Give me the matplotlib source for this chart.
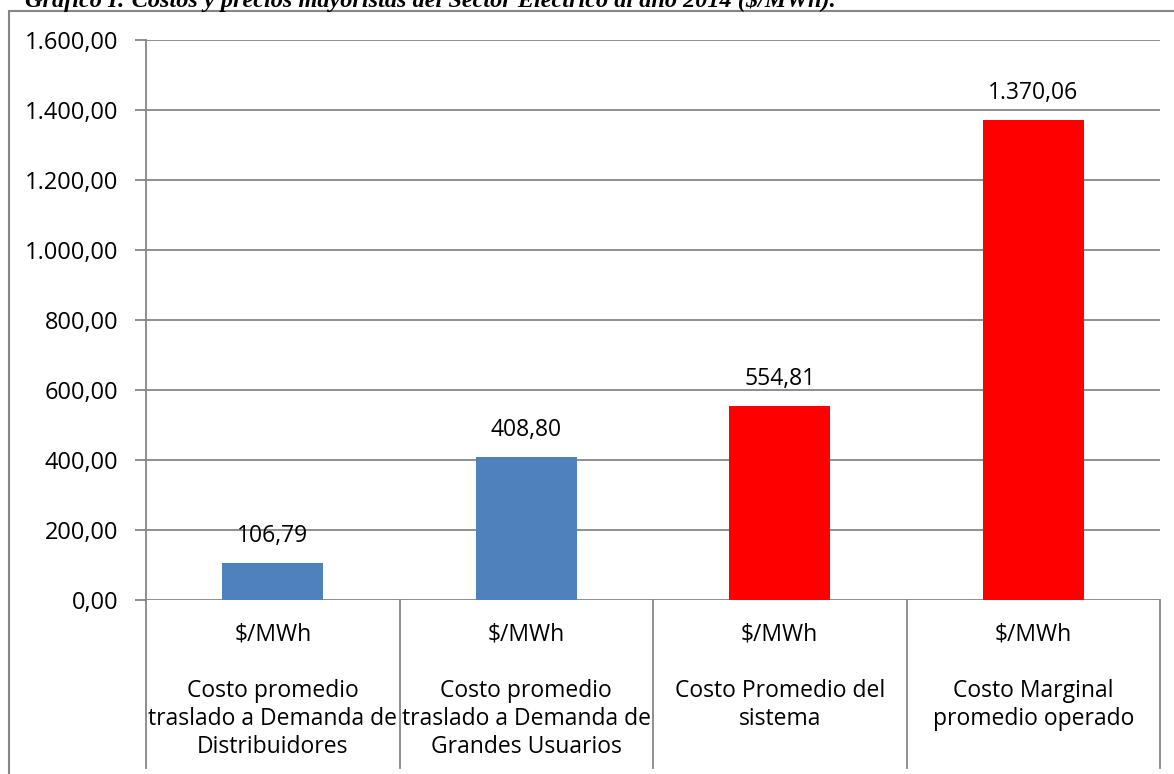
import numpy as np
import matplotlib
matplotlib.use('Agg')
import matplotlib.pyplot as plt
from matplotlib.patches import Rectangle

# datos del grafico
categorias = ['Costo promedio\ntraslado a Demanda de\nDistribuidores',
              'Costo promedio\ntraslado a Demanda de\nGrandes Usuarios',
              'Costo Promedio del\nsistema',
              'Costo Marginal\npromedio operado']
unidad = '$/MWh'
valores = [106.79, 408.80, 554.81, 1370.06]
colores = ['#4F81BD', '#4F81BD', '#FF0000', '#FF0000']
yticks = [0, 200, 400, 600, 800, 1000, 1200, 1400, 1600]

def fmt(v):
    # formato con punto de miles y coma decimal
    s = '{:,.2f}'.format(v)
    return s.replace(',', 'X').replace('.', ',').replace('X', '.')

plt.rcParams['font.family'] = ['Open Sans', 'DejaVu Sans']
W, H = 1174, 774
fs = 16.5
fig = plt.figure(figsize=(W / 100, H / 100), dpi=100)

# titulo recortado arriba
fig.text(25 / W, 1 - 7 / H, 'Gráfico I: Costos y precios mayoristas del Sector Eléctrico al año 2014 ($/MWh).',
         family='Liberation Serif', style='italic', fontweight='bold', fontsize=17.5,
         ha='left', va='baseline')

# marco exterior
fig.patches.append(Rectangle((9 / W, -0.05), 1.1, 1 - 11 / H + 0.05, transform=fig.transFigure,
                             fill=False, edgecolor='#868686', lw=1.5, zorder=0))

ax = fig.add_axes([146 / W, 1 - 600 / H, (1160 - 146) / W, 560 / H])
x = np.arange(len(valores))
ax.bar(x, valores, width=0.4, color=colores, zorder=3)
ax.set_xlim(-0.5, 3.5)
ax.set_ylim(0, 1600)
ax.set_yticks(yticks)
ax.set_yticklabels([fmt(v) for v in yticks], fontsize=17)
ax.tick_params(axis='y', length=8, color='#868686', width=1.3, pad=12)
ax.set_xticks([])
for s in ['top', 'right', 'bottom']:
    ax.spines[s].set_visible(False)
ax.spines['left'].set_color('#868686')
ax.spines['left'].set_linewidth(1.3)
ax.grid(axis='y', color='#868686', lw=1.3, zorder=0)

for xi, v in zip(x, valores):
    ax.annotate(fmt(v), (xi, v), xytext=(0, 19.5), textcoords='offset points',
                ha='center', va='center', fontsize=fs)

# separadores de categoria
for b in np.arange(-0.5, len(valores), 1.0):
    ax.plot([b, b], [0, -0.3], color='#868686', lw=1.3,
            transform=ax.get_xaxis_transform(), clip_on=False)
for xi, cat in zip(x, categorias):
    ax.text(xi, -35 / 560, unidad, transform=ax.get_xaxis_transform(),
            ha='center', va='center', fontsize=fs)
    ax.text(xi, -79 / 560, cat, transform=ax.get_xaxis_transform(),
            ha='center', va='top', fontsize=fs, linespacing=1.22)

fig.savefig('out.png', dpi=100)
